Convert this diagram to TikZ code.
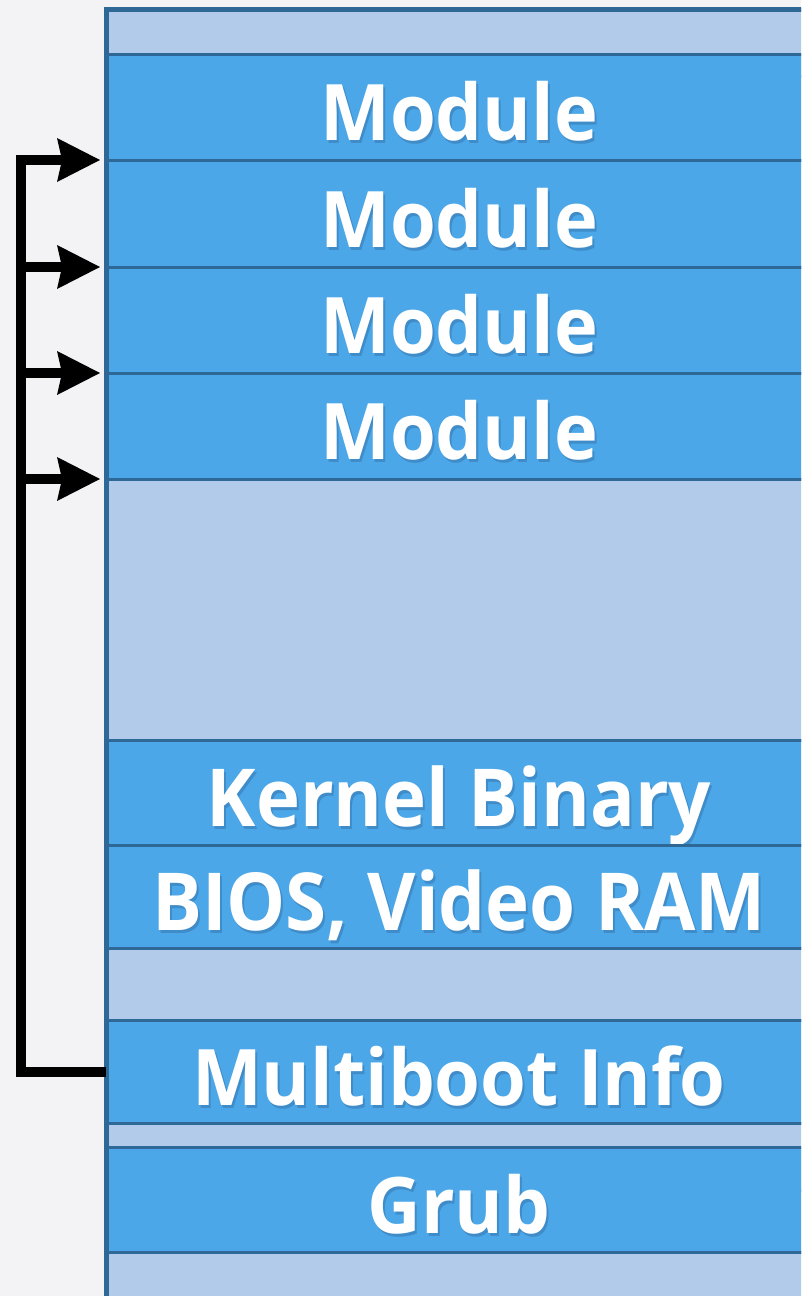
\documentclass[tikz,border=0pt]{standalone}
\usepackage{fontspec}
\setmainfont{Open Sans}[FakeStretch=0.95]
\newfontfamily\narrowfont[FakeStretch=0.93]{Open Sans}
\usetikzlibrary{arrows.meta}

\definecolor{pagebg}{HTML}{F3F3F5}
\definecolor{lightband}{HTML}{B3CBEB}
\definecolor{darkband}{HTML}{4BA7E7}
\definecolor{bandline}{HTML}{2E6896}
\definecolor{textshadow}{HTML}{3F8CC9}

\newcommand{\shadowed}[1]{\makebox[0pt][l]{\hspace{2pt}\raisebox{-3pt}{\color{textshadow}#1}}#1}

\begin{document}
\begin{tikzpicture}[x=1pt,y=-1pt,
  band/.style={draw=bandline, line width=3pt, shape=rectangle, anchor=north west,
    minimum width=706pt, inner sep=0pt, outer sep=0pt, text=white,
    text height=67pt, text depth=0pt, font=\fontsize{78}{78}\selectfont\bfseries},
  free/.style={band, fill=lightband},
  used/.style={band, fill=darkband},
  narrow/.style={font=\fontsize{80}{80}\selectfont\narrowfont\bfseries},
  pointer/.style={line width=10pt, line join=miter},
  tip/.style={-{Stealth[length=43pt, width=44pt, inset=5pt, line width=0pt]}}]

\useasboundingbox (0,0) rectangle (801,1296);
\fill[pagebg] (0,0) rectangle (801,1296);
\clip (0,0) rectangle (801,1296);

% memory map, top to bottom
\node[free, minimum height=44.5pt] (top) at (106,9.5) {};
\node[used, minimum height=106pt] (mod1) at (106,54) {\shadowed{Module}};
\node[used, minimum height=107pt] (mod2) at (106,160) {\shadowed{Module}};
\node[used, minimum height=106pt] (mod3) at (106,267) {\shadowed{Module}};
\node[used, minimum height=106pt] (mod4) at (106,373) {\shadowed{Module}};
\node[free, minimum height=261pt] (gap1) at (106,479) {};
\node[used, narrow, minimum height=105pt] (kernel) at (106,740) {\shadowed{Kernel Binary}};
\node[used, narrow, minimum height=103pt] (bios) at (106,845) {\shadowed{BIOS, Video RAM}};
\node[free, minimum height=72pt] (gap2) at (106,948) {};
\node[used, minimum height=103pt] (multi) at (106,1020) {\shadowed{Multiboot Info}};
\node[free, minimum height=24pt] (gap3) at (106,1123) {};
\node[used, minimum height=105pt] (grub) at (106,1147) {\shadowed{Grub}};
\node[free, minimum height=60pt] (bottom) at (106,1252) {};

\draw[bandline, line width=5pt] (bottom.south west) -- (top.north west) -- (top.north east);

% pointers from the multiboot info to the modules
\coordinate (elbow) at ([xshift=-85pt]multi.west);
\draw[pointer, tip] (multi.west) -- (elbow) |- ([xshift=-6pt]mod1.south west);
\foreach \m in {mod2,mod3,mod4}
  \draw[pointer, tip] (elbow |- \m.south west) -- ([xshift=-6pt]\m.south west);

\end{tikzpicture}
\end{document}
